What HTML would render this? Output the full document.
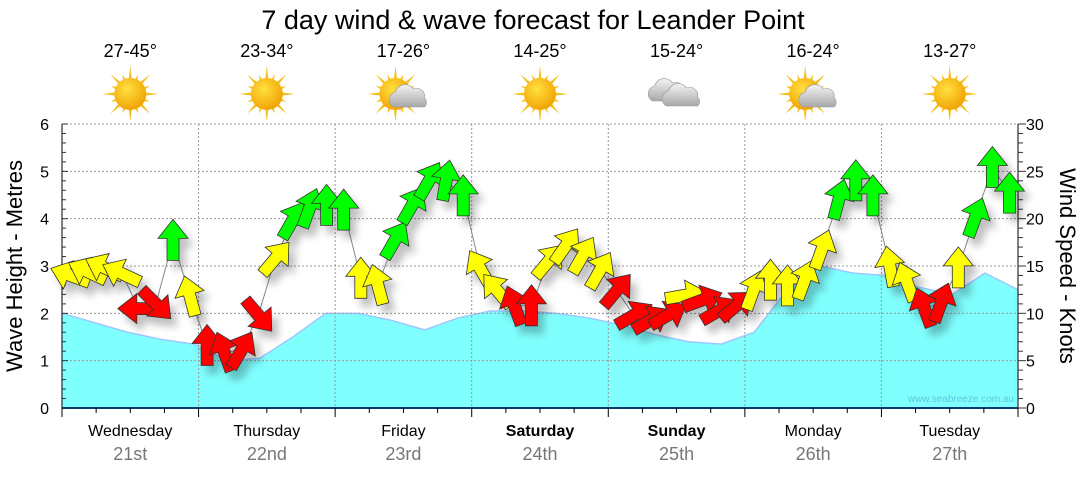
<!DOCTYPE html>
<html><head><meta charset="utf-8"><style>
body{margin:0;background:#fff;}
svg text{font-family:"Liberation Sans",sans-serif;}
</style></head><body>
<svg id="c" width="1080" height="475" xmlns="http://www.w3.org/2000/svg">
<defs>
<filter id="sh" x="-50%" y="-50%" width="200%" height="200%"><feGaussianBlur in="SourceAlpha" stdDeviation="4"/><feOffset dx="6" dy="8"/><feComponentTransfer><feFuncA type="linear" slope="0.25"/></feComponentTransfer><feMerge><feMergeNode/><feMergeNode in="SourceGraphic"/></feMerge></filter>
<radialGradient id="sunG" cx="0.4" cy="0.35" r="0.7"><stop offset="0" stop-color="#ffe040"/><stop offset="1" stop-color="#f0a000"/></radialGradient>
<linearGradient id="cloudG" x1="0" y1="0" x2="0" y2="1"><stop offset="0" stop-color="#f4f4f4"/><stop offset="1" stop-color="#a8a8a8"/></linearGradient>
</defs>
<text x="533" y="29" font-size="27" text-anchor="middle" fill="#000">7 day wind &amp; wave forecast for Leander Point</text>
<g id="g"></g>
</svg>
<script>
const days=["Wednesday","Thursday","Friday","Saturday","Sunday","Monday","Tuesday"];
const dates=["21st","22nd","23rd","24th","25th","26th","27th"];
const temps=["27-45°","23-34°","17-26°","14-25°","15-24°","16-24°","13-27°"];
const icons=["sun","sun","partly","sun","cloud","partly","sun"];
const waveHeights=[2.0,1.8,1.6,1.45,1.35,1.0,1.05,1.5,2.0,2.0,1.85,1.65,1.9,2.05,2.05,2.0,1.9,1.75,1.55,1.4,1.35,1.6,2.5,3.0,2.85,2.8,2.55,2.4,2.85,2.5];
const windSpeed=[14.0,14.4,14.8,14.2,10.5,11.0,17.7,11.8,6.6,5.9,6.1,9.8,15.8,19.8,21.1,21.4,20.9,13.7,13.0,17.7,21.4,24.0,24.0,22.4,14.7,12.4,10.8,10.8,15.5,17.1,16.1,14.5,12.4,9.8,9.3,9.8,11.9,11.4,10.3,10.8,12.4,13.5,12.9,13.5,16.7,22.0,24.0,22.4,14.9,13.3,10.6,11.1,14.8,20.1,25.4,22.7];
const windDir=[-70,-65,-65,-65,-90,135,0,-15,0,-20,30,140,40,30,20,0,0,0,-15,30,30,30,10,0,-30,-40,-20,0,40,35,30,30,40,60,60,60,80,70,60,50,20,0,0,20,20,15,0,0,-10,-20,-20,20,0,20,0,0];
const windRating=["y","y","y","y","r","r","g","y","r","r","r","r","y","g","g","g","g","y","y","g","g","g","g","g","y","y","r","r","y","y","y","y","r","r","r","r","y","r","r","r","y","y","y","y","y","g","g","g","y","y","r","r","y","g","g","g"];
const yTicks=[0,1,2,3,4,5,6];
const y2Ticks=[0,5,10,15,20,25,30];

const NS="http://www.w3.org/2000/svg";
const g=document.getElementById('g');
const X0=62,X1=1018,Y0=408,Y1=124,DW=(X1-X0)/7;
const ym=v=>Y0-(v/6)*(Y0-Y1);
const yk=v=>Y0-(v/30)*(Y0-Y1);
const xd=d=>X0+d*DW;
function mk(t,a,p){const e=document.createElementNS(NS,t);for(const k in a)e.setAttribute(k,a[k]);(p||g).appendChild(e);return e;}

let pts=waveHeights.map((v,i)=>[X0+i*(X1-X0)/(waveHeights.length-1),ym(v)]);
let d="M"+X0+","+Y0+" "+pts.map(p=>"L"+p[0].toFixed(1)+","+p[1].toFixed(1)).join(" ")+" L"+X1+","+Y0+"Z";
let wa=mk('path',{d:d,fill:'#80ffff',stroke:'none'});


let wl=mk('polyline',{points:pts.map(p=>p.join(',')).join(' '),fill:'none',stroke:'#9cc8ff','stroke-width':1.5});



yTicks.forEach(v=>{if(v>0){let l=mk('line',{x1:X0,x2:X1,y1:ym(v),y2:ym(v),stroke:'#999','stroke-dasharray':'2,2','stroke-width':1});

}});
for(let i=1;i<7;i++){let l=mk('line',{x1:xd(i),x2:xd(i),y1:Y1,y2:Y0,stroke:'#999','stroke-dasharray':'2,2','stroke-width':1});

}

let ax=mk('line',{x1:X0,x2:X0,y1:Y1,y2:Y0,stroke:'#000','stroke-width':1});


let ax2=mk('line',{x1:X1,x2:X1,y1:Y1,y2:Y0,stroke:'#000','stroke-width':1});


let xb=mk('line',{x1:X0,x2:X1,y1:Y0,y2:Y0,stroke:'#0a3c6e','stroke-width':2});


for(let v=0;v<=6.001;v+=0.2){let maj=Math.abs(v-Math.round(v))<0.01;mk('line',{x1:X0,x2:X0+(maj?6:4),y1:ym(v),y2:ym(v),stroke:'#333'});}
for(let v=0;v<=30;v++){let maj=v%5==0;mk('line',{x1:X1,x2:X1+(maj?8:5),y1:yk(v),y2:yk(v),stroke:'#333'});}
yTicks.forEach(v=>{let t=mk('text',{x:49,y:ym(v)+6,'font-size':16,'text-anchor':'end',fill:'#000'});t.textContent=v;

});
y2Ticks.forEach(v=>{let t=mk('text',{x:1026,y:yk(v)+6,'font-size':16,'text-anchor':'start',fill:'#000'});t.textContent=v;

});
for(let i=0;i<=28;i++){let x=X0+i*DW/4;mk('line',{x1:x,x2:x,y1:Y0,y2:Y0+(i%4==0?9:5),stroke:'#000'});}

let yt=mk('text',{x:0,y:0,'font-size':22,'text-anchor':'middle',transform:'translate(22,266) rotate(-90)',fill:'#000'});yt.textContent="Wave Height - Metres";


let yt2=mk('text',{x:0,y:0,'font-size':22,'text-anchor':'middle',transform:'translate(1060,266) rotate(90)',fill:'#000'});yt2.textContent="Wind Speed - Knots";


let wm=mk('text',{x:1014,y:402,'font-size':10,'text-anchor':'end',fill:'#5cc8d8'});wm.textContent="www.seabreeze.com.au";



days.forEach((n,i)=>{const cx=xd(i)+DW/2;const bold=(n=="Saturday"||n=="Sunday");
let t=mk('text',{x:cx,y:436,'font-size':16,'text-anchor':'middle','font-weight':bold?'bold':'normal',fill:'#000'});t.textContent=n;


let t2=mk('text',{x:cx,y:460,'font-size':18,'text-anchor':'middle',fill:'#777'});t2.textContent=dates[i];


let t3=mk('text',{x:cx,y:57,'font-size':18,'text-anchor':'middle',fill:'#000'});t3.textContent=temps[i];


const ig=mk('g',{transform:'translate('+cx+',94)'});


const sunX=icons[i]=="partly"?-8:0;
if(icons[i]!="cloud"){
 let rp="";for(let k=0;k<16;k++){const a=k*Math.PI/8,r=k%2?21:28,a1=a-0.12,a2=a+0.12;rp+="M"+(sunX+Math.cos(a1)*14).toFixed(1)+","+(Math.sin(a1)*14).toFixed(1)+"L"+(sunX+Math.cos(a)*r).toFixed(1)+","+(Math.sin(a)*r).toFixed(1)+"L"+(sunX+Math.cos(a2)*14).toFixed(1)+","+(Math.sin(a2)*14).toFixed(1)+"Z";}
 mk('path',{d:rp,fill:'#f5c020'},ig);
 mk('circle',{cx:sunX,cy:0,r:16,fill:'url(#sunG)'},ig);
}
if(icons[i]!="sun"){
 const ox=icons[i]=="cloud"?0:6;
 const cl=(dx,dy)=>{mk('path',{d:`M${dx-16},${dy+9} a8,8 0 0 1 2,-15 a10,10 0 0 1 18,-3 a8,8 0 0 1 11,9 a6,6 0 0 1 0,9 Z`,fill:'url(#cloudG)',stroke:'#999','stroke-width':0.6},ig);};
 if(icons[i]=="cloud"){cl(-8,-2);cl(6,3);}else{cl(ox,4);}
}
});

const cols={r:'#ff0000',y:'#ffff00',g:'#00ff00'};
const step=(X1-X0)/windSpeed.length;
const wp=windSpeed.map((v,i)=>[X0+step*(i+0.5),yk(v)]);
let ln=mk('polyline',{points:wp.map(p=>p[0].toFixed(1)+','+p[1].toFixed(1)).join(' '),fill:'none',stroke:'#888','stroke-width':1});


const ag=mk('g',{filter:'url(#sh)'});


const AP="M0,-21 L15,-2 L6,-2 L6,20 L-6,20 L-6,-2 L-15,-2 Z";
wp.forEach((p,i)=>{
 let a=mk('path',{d:AP,fill:cols[windRating[i]],stroke:'#333','stroke-width':0.8,transform:`translate(${p[0].toFixed(1)},${p[1].toFixed(1)}) rotate(${windDir[i]})`},ag);
 
 
});
</script>
</body></html>
